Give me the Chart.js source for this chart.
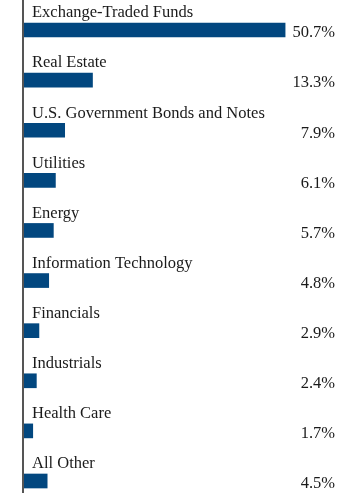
<!DOCTYPE html>
<html>
<head>
<meta charset="utf-8">
<script src="https://cdn.jsdelivr.net/npm/chart.js@4.4.1/dist/chart.umd.min.js"></script>
<style>
  html, body { margin: 0; padding: 0; background: #fff; overflow: hidden; }
  #wrap { width: 360px; height: 497px; position: relative; }
</style>
</head>
<body>
<div id="wrap"><canvas id="sectorChart"></canvas></div>
<script>
// ===== Sector allocation bar chart =====
const categories = [
  "Exchange-Traded Funds",
  "Real Estate",
  "U.S. Government Bonds and Notes",
  "Utilities",
  "Energy",
  "Information Technology",
  "Financials",
  "Industrials",
  "Health Care",
  "All Other"
];
const values = [50.7, 13.3, 7.9, 6.1, 5.7, 4.8, 2.9, 2.4, 1.7, 4.5];
const valueLabels = ["50.7%", "13.3%", "7.9%", "6.1%", "5.7%", "4.8%", "2.9%", "2.4%", "1.7%", "4.5%"];

const FONT = "16.5px 'Liberation Serif', 'Times New Roman', serif";

// labels above bars, values at right, plus the left axis line
const labelPlugin = {
  id: "rowLabels",
  afterDatasetsDraw(chart) {
    const c = chart.ctx;
    const yScale = chart.scales.y;
    const area = chart.chartArea;
    c.save();
    c.strokeStyle = "#555";
    c.lineWidth = 2;
    c.beginPath();
    c.moveTo(area.left - 1, 0);
    c.lineTo(area.left - 1, 493);
    c.stroke();

    c.font = FONT;
    c.fillStyle = "#1a1a1a";
    c.textBaseline = "middle";
    categories.forEach((name, i) => {
      const y = yScale.getPixelForValue(i);
      c.textAlign = "left";
      c.fillText(name, area.left + 8, y - 17);
      c.textAlign = "right";
      c.fillText(valueLabels[i], 335, y + 3);
    });
    c.restore();
  }
};

const ctx = document.getElementById("sectorChart").getContext("2d");

new Chart(ctx, {
  type: "bar",
  data: {
    labels: categories,
    datasets: [
      {
        data: values,
        backgroundColor: "#02477f",
        borderWidth: 0,
        barThickness: 14,
        clip: false,
      },
    ],
  },
  options: {
    indexAxis: "y",
    responsive: true,
    maintainAspectRatio: false,
    animation: false,
    layout: { padding: { left: 24, right: 27, top: 30, bottom: 16 } },
    scales: {
      x: { display: false, min: 0, max: 60 },
      y: { display: false, offset: false },
    },
    plugins: {
      legend: { display: false },
      tooltip: { enabled: false },
    },
  },
  plugins: [labelPlugin],
});
</script>
</body>
</html>
